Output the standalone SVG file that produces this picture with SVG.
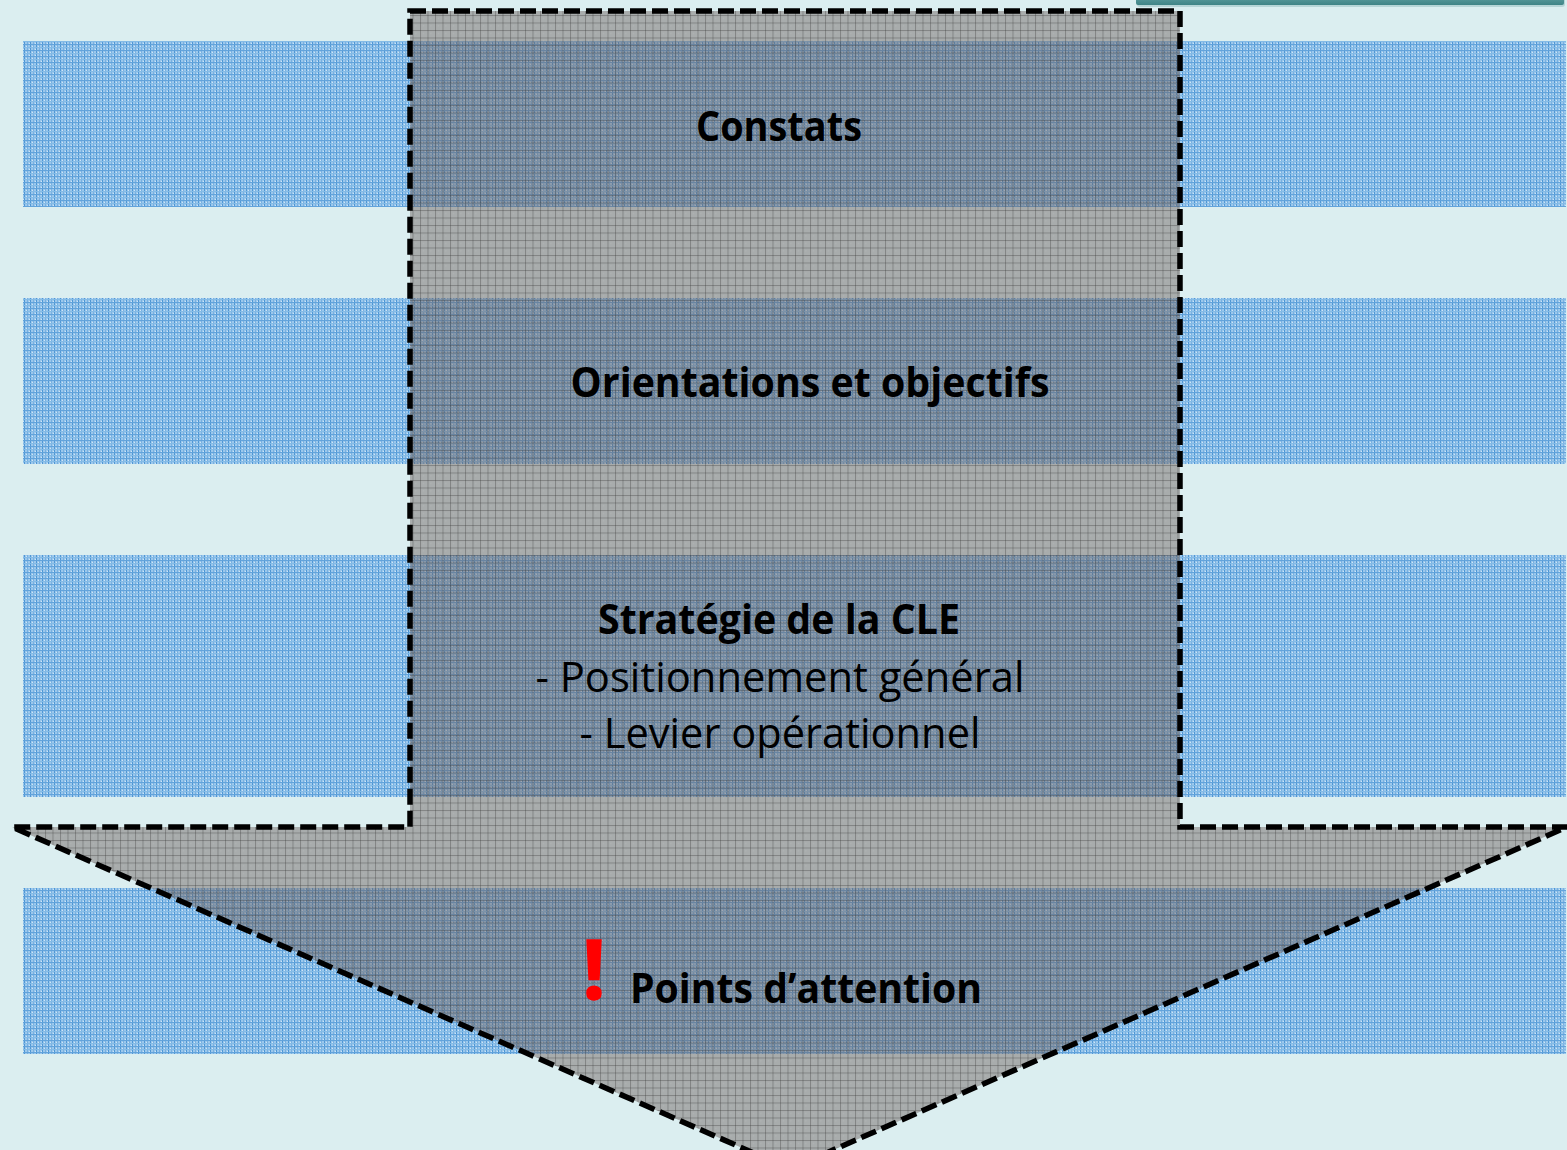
<svg xmlns="http://www.w3.org/2000/svg" width="1567" height="1150" viewBox="0 0 1567 1150">
<style>
.t{font-family:"Open Sans","Noto Sans","Liberation Sans",sans-serif;fill:#000;text-anchor:middle}
.b{font-weight:bold}
.band{fill:url(#bandPat)}
</style>
<defs>
<pattern id="bandPat" width="6" height="6" patternUnits="userSpaceOnUse">
<rect width="6" height="6" fill="#9cc8ec"/>
<rect x="0" y="0" width="1" height="6" fill="#4f97d5"/>
<rect x="3" y="0" width="1" height="6" fill="#78b0e1"/>
<rect x="0" y="2" width="6" height="1" fill="#62a3db"/>
<rect x="0" y="5" width="6" height="1" fill="#84bbe6"/>
<rect x="2" y="4" width="1" height="1" fill="#d0e6f7"/>
<rect x="5" y="1" width="1" height="1" fill="#d0e6f7"/>
</pattern>
<pattern id="arrowPat" width="7.5" height="7.5" patternUnits="userSpaceOnUse">
<rect width="7.5" height="7.5" fill="#6e6260" fill-opacity="0.47"/>
<rect x="0" y="0" width="1" height="7.5" fill="#3a3a3a" fill-opacity="0.35"/>
<rect x="0" y="0" width="7.5" height="1" fill="#3a3a3a" fill-opacity="0.35"/>
<rect x="3" y="3" width="1" height="1" fill="#ffffff" fill-opacity="0.15"/>
</pattern>
<linearGradient id="teal" x1="0" y1="0" x2="0" y2="1">
<stop offset="0" stop-color="#5e9fa1"/>
<stop offset="1" stop-color="#3f8486"/>
</linearGradient>
</defs>
<rect width="1567" height="1150" fill="#dbeef0"/>
<g id="topbar">
<rect x="1137" y="-4" width="428" height="11" rx="3" fill="#9cc4c6" opacity="0.6"/>
<rect x="1136" y="-4" width="428" height="9" rx="2" fill="url(#teal)"/>
</g>
<g id="bands">
<rect class="band" x="23" y="41" width="1543" height="166"/>
<rect class="band" x="23" y="298" width="1543" height="166"/>
<rect class="band" x="23" y="555" width="1543" height="242"/>
<rect class="band" x="23" y="888" width="1543" height="166"/>
</g>
<g id="arrow">
<path d="M410,11 L1180,11 L1180,827 L1567,827 L790,1169 L12,827 L410,827 Z" fill="url(#arrowPat)" stroke="#000" stroke-width="5.5" stroke-dasharray="16 6" stroke-linejoin="miter"/>
</g>
<g id="node-constats">
<text class="t b" x="779" y="141" font-size="42" textLength="166" lengthAdjust="spacingAndGlyphs">Constats</text>
</g>
<g id="node-orientations">
<text class="t b" x="810" y="397" font-size="42" textLength="479" lengthAdjust="spacingAndGlyphs">Orientations et objectifs</text>
</g>
<g id="node-strategie">
<text class="t b" x="779" y="634" font-size="42" textLength="362" lengthAdjust="spacingAndGlyphs">Stratégie de la CLE</text>
<text class="t" x="780" y="692" font-size="42" textLength="489" lengthAdjust="spacingAndGlyphs">- Positionnement général</text>
<text class="t" x="780" y="748" font-size="42" textLength="401" lengthAdjust="spacingAndGlyphs">- Levier opérationnel</text>
</g>
<g id="node-points">
<text class="t b" x="594" y="999" font-size="82" style="fill:#ff0000;stroke:#ff0000;stroke-width:1.5">!</text>
<text class="t b" x="806" y="1003" font-size="42" textLength="352" lengthAdjust="spacingAndGlyphs">Points d’attention</text>
</g>
</svg>
